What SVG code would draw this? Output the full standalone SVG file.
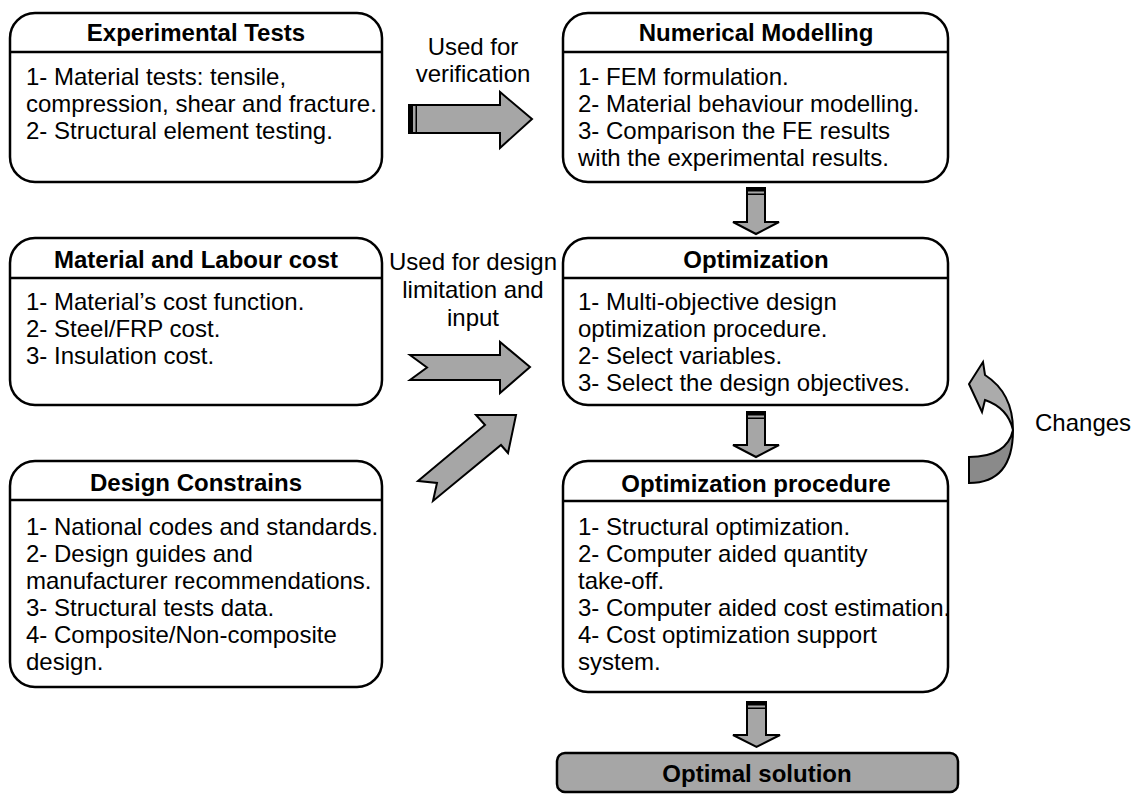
<svg xmlns="http://www.w3.org/2000/svg" width="1138" height="797" viewBox="0 0 1138 797">
<style>
.box{fill:#fff;stroke:#000;stroke-width:2.5}
.hd{stroke:#000;stroke-width:2.5}
.t{font-family:"Liberation Sans",Arial,sans-serif;font-size:24px;font-weight:bold;text-anchor:middle;fill:#000}
.b{font-family:"Liberation Sans",Arial,sans-serif;font-size:24px;fill:#000}
.c{font-family:"Liberation Sans",Arial,sans-serif;font-size:24px;fill:#000;text-anchor:middle}
.ar{fill:#a6a6a6;stroke:#000;stroke-width:2;stroke-linejoin:miter}
</style>
<rect width="1138" height="797" fill="#fff"/>
<g id="experimental-tests">
<rect class="box" x="10" y="13" width="372" height="169" rx="25"/>
<line class="hd" x1="10" y1="52" x2="382" y2="52"/>
<text class="t" x="196" y="41">Experimental Tests</text>
<text class="b" x="26" y="85">1- Material tests: tensile,</text>
<text class="b" x="26" y="112">compression, shear and fracture.</text>
<text class="b" x="26" y="139">2- Structural element testing.</text>
</g>
<g id="numerical-modelling">
<rect class="box" x="563" y="13" width="385" height="169" rx="25"/>
<line class="hd" x1="563" y1="52" x2="948" y2="52"/>
<text class="t" x="756" y="41">Numerical Modelling</text>
<text class="b" x="578" y="85">1- FEM formulation.</text>
<text class="b" x="578" y="112">2- Material behaviour modelling.</text>
<text class="b" x="578" y="139">3- Comparison the FE results</text>
<text class="b" x="578" y="166">with the experimental results.</text>
</g>
<g id="material-labour-cost">
<rect class="box" x="10" y="238" width="372" height="167" rx="25"/>
<line class="hd" x1="10" y1="278" x2="382" y2="278"/>
<text class="t" x="196" y="268">Material and Labour cost</text>
<text class="b" x="26" y="310">1- Material’s cost function.</text>
<text class="b" x="26" y="337">2- Steel/FRP cost.</text>
<text class="b" x="26" y="364">3- Insulation cost.</text>
</g>
<g id="optimization">
<rect class="box" x="563" y="238" width="385" height="167" rx="25"/>
<line class="hd" x1="563" y1="278" x2="948" y2="278"/>
<text class="t" x="756" y="268">Optimization</text>
<text class="b" x="578" y="310">1- Multi-objective design</text>
<text class="b" x="578" y="337">optimization procedure.</text>
<text class="b" x="578" y="364">2- Select variables.</text>
<text class="b" x="578" y="391">3- Select the design objectives.</text>
</g>
<g id="design-constrains">
<rect class="box" x="10" y="461" width="372" height="226" rx="25"/>
<line class="hd" x1="10" y1="500" x2="382" y2="500"/>
<text class="t" x="196" y="491">Design Constrains</text>
<text class="b" x="26" y="535">1- National codes and standards.</text>
<text class="b" x="26" y="562">2- Design guides and</text>
<text class="b" x="26" y="589">manufacturer recommendations.</text>
<text class="b" x="26" y="616">3- Structural tests data.</text>
<text class="b" x="26" y="643">4- Composite/Non-composite</text>
<text class="b" x="26" y="670">design.</text>
</g>
<g id="optimization-procedure">
<rect class="box" x="563" y="461" width="385" height="231" rx="25"/>
<line class="hd" x1="563" y1="501" x2="948" y2="501"/>
<text class="t" x="756" y="492">Optimization procedure</text>
<text class="b" x="578" y="535">1- Structural optimization.</text>
<text class="b" x="578" y="562">2- Computer aided quantity</text>
<text class="b" x="578" y="589">take-off.</text>
<text class="b" x="578" y="616">3- Computer aided cost estimation.</text>
<text class="b" x="578" y="643">4- Cost optimization support</text>
<text class="b" x="578" y="670">system.</text>
</g>
<g id="optimal-solution">
<rect x="557" y="753" width="401" height="39" rx="8" fill="#a6a6a6" stroke="#000" stroke-width="2.5"/>
<text class="t" x="757" y="782">Optimal solution</text>
</g>
<g id="connectors">
<text class="c" x="473" y="55">Used for</text>
<text class="c" x="473" y="82">verification</text>
<path class="ar" d="M409,105 L500,105 L500,92 L532,119 L500,148 L500,133 L409,133 Z"/>
<rect x="409" y="105" width="4" height="28" fill="#000"/>
<rect x="415.5" y="105" width="1.5" height="28" fill="#000"/>
<text class="c" x="473" y="270">Used for design</text>
<text class="c" x="473" y="298">limitation and</text>
<text class="c" x="473" y="326">input</text>
<path class="ar" d="M410,355 L500,355 L500,342 L530,367 L500,393 L500,380 L410,380 L427,367.5 Z"/>
<path class="ar" d="M516,415 L476,415 L485,425 L418,481 L437,483 L433,501 L501,445 L508,453 Z"/>
<g id="down-arrow-1">
<path class="ar" d="M747,188 L765,188 L765,222 L779,222 L756,234 L733,222 L747,222 Z"/>
<rect x="747" y="188" width="18" height="3.5" fill="#000"/>
<rect x="747" y="193.5" width="18" height="1.5" fill="#000"/>
</g>
<g id="down-arrow-2">
<path class="ar" d="M747,412 L765,412 L765,445 L779,445 L756,457 L733,445 L747,445 Z"/>
<rect x="747" y="412" width="18" height="3.5" fill="#000"/>
<rect x="747" y="417.5" width="18" height="1.5" fill="#000"/>
</g>
<g id="down-arrow-3">
<path class="ar" d="M747,702 L766,702 L766,735 L780,735 L756.5,747 L733,735 L747,735 Z"/>
<rect x="747" y="702" width="19" height="3.5" fill="#000"/>
<rect x="747" y="707.5" width="19" height="1.5" fill="#000"/>
</g>
<g id="changes-arrow">
<path d="M983,362 L969,384 L982,412 L985,400 Q1008,408 1013,430 Q1013,393 985,375 Z" fill="#ababab" stroke="#000" stroke-width="2" stroke-linejoin="miter"/>
<path d="M1013,430 Q1013,483 969,483 L969,457 Q1007,457 1013,430 Z" fill="#8a8a8a" stroke="#000" stroke-width="2"/>
</g>
<text class="b" x="1035" y="431">Changes</text>
</g>
</svg>
